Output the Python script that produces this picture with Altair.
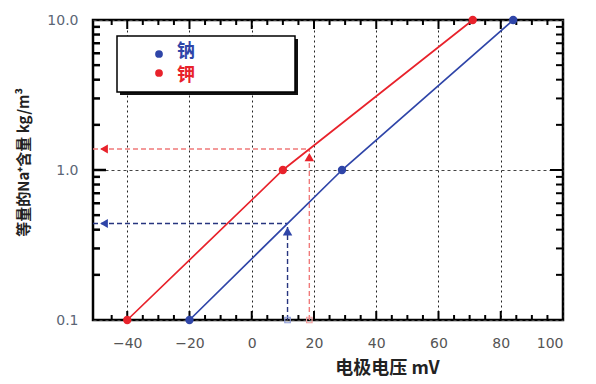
import altair as alt
import pandas as pd

# ---------------- data ----------------
series = ["钠", "钾"]
line_colors = ["#2f45a8", "#e8222b"]
dash_colors = ["#27357f", "#f07a7a"]
square_colors = ["#8c9bd6", "#f4a0a0"]

na_mv = [-20, 29, 84]
na_conc = [0.1, 1.0, 10.0]
k_mv = [-40, 10, 71]
k_conc = [0.1, 1.0, 10.0]

probe_mv = [11.5, 18.5]      # read-off voltages (Na, K)
probe_conc = [0.44, 1.38]    # resulting concentrations

x_labels = [-40, -20, 0, 20, 40, 60, 80, 100]
x_major_ticks = [-40, -20, 0, 20, 40, 60, 80]
x_minor_ticks = [-45, -35, -30, -25, -15, -10, -5, 5, 10, 15, 25, 30, 35,
                 45, 50, 55, 65, 70, 75, 85, 90, 95]
y_labels = [0.1, 1.0, 10.0]
y_major_ticks = [1.0]
y_minor_ticks = [0.2, 0.3, 0.4, 0.5, 0.6, 0.7, 0.8, 0.9,
                 2, 3, 4, 5, 6, 7, 8, 9]

x_domain = [-51, 100]
y_domain = [0.1, 10]

# ---------------- tables ----------------
df_lines = pd.DataFrame({
    "mV": na_mv + k_mv,
    "conc": na_conc + k_conc,
    "series": [series[0]] * len(na_mv) + [series[1]] * len(k_mv),
})
df_probe = pd.DataFrame({"mV": probe_mv, "conc": probe_conc, "series": series})

seg_rows = []
for s, m, c in zip(series, probe_mv, probe_conc):
    seg_rows += [
        {"seg": s + "v", "series": s, "mV": m, "conc": y_domain[0]},
        {"seg": s + "v", "series": s, "mV": m, "conc": c},
        {"seg": s + "h", "series": s, "mV": m, "conc": c},
        {"seg": s + "h", "series": s, "mV": x_domain[0], "conc": c},
    ]
df_seg = pd.DataFrame(seg_rows)
df_left = pd.DataFrame({"mV": [x_domain[0]] * 2, "conc": probe_conc, "series": series})
df_bottom = pd.DataFrame({"mV": probe_mv, "conc": [y_domain[0]] * 2, "series": series})

# ---------------- scales / axes ----------------
xs = alt.Scale(domain=x_domain, nice=False, zero=False)
ys = alt.Scale(type="log", domain=y_domain, nice=False)
cs = alt.Scale(domain=series, range=line_colors)
ds = alt.Scale(domain=series, range=dash_colors)
ss = alt.Scale(domain=series, range=square_colors)

x_axis = alt.Axis(
    values=x_labels, grid=True, gridDash=[2, 3], gridColor="#222", gridWidth=1,
    ticks=False, domain=False, labelPadding=16, labelFontSize=14,
    labelColor="#555", labelFont="DejaVu Sans",
    title="电极电压 mV", titleFontSize=18, titleFontWeight="bold",
    titleFont="Noto Sans CJK SC", titleColor="#222",
    titleX=294, titleY=48, titleAlign="center", titleBaseline="middle",
)
y_axis = alt.Axis(
    values=y_labels, format=".1f", grid=True, gridDash=[3, 3], gridColor="#444",
    gridWidth=1, ticks=False, domain=False, labelPadding=15, labelFontSize=14,
    labelColor="#5b6575", labelFont="DejaVu Sans",
    title="等量的Na⁺含量 kg/m³", titleFontSize=15, titleFontWeight="bold",
    titleFont="Noto Sans CJK SC", titleColor="#222",
    titleX=-70, titleY=142, titleAlign="center", titleBaseline="middle",
)


def X():
    return alt.X("mV:Q", scale=xs, axis=x_axis)


def Y():
    return alt.Y("conc:Q", scale=ys, axis=y_axis)


color = alt.Color("series:N", scale=cs, legend=None)

lines = alt.Chart(df_lines).mark_line(strokeWidth=1.7).encode(
    x=X(), y=Y(), color=color)
points = alt.Chart(df_lines).mark_circle(size=70, opacity=1).encode(
    x=X(), y=Y(), color=color)

guides = alt.Chart(df_seg).mark_line(strokeDash=[5, 3], strokeWidth=1.4).encode(
    x=X(), y=Y(), detail="seg:N",
    stroke=alt.Stroke("series:N", scale=ds, legend=None))
tri_up = alt.Chart(df_probe).mark_point(
    shape="triangle-up", filled=True, size=90, opacity=1, yOffset=8).encode(
    x=X(), y=Y(), color=color)
tri_left = alt.Chart(df_left).mark_point(
    shape="triangle-left", filled=True, size=80, opacity=1, xOffset=11).encode(
    x=X(), y=Y(), color=color)
squares = alt.Chart(df_bottom).mark_point(
    shape="square", filled=False, size=30, strokeWidth=1.2, opacity=1).encode(
    x=X(), y=Y(), stroke=alt.Stroke("series:N", scale=ss, legend=None))


# inward ticks: 'stroke' symbols (a line of length sqrt(size)), shifted inward by half length
def tick_layer(df, side, length, width):
    props = dict(shape="stroke", filled=False, color="black", stroke="black",
                 opacity=1, strokeWidth=width, size=length ** 2)
    if side == "bottom":
        props.update(angle=90, yOffset=-length / 2)
    elif side == "top":
        props.update(angle=90, yOffset=length / 2)
    elif side == "left":
        props.update(xOffset=length / 2)
    else:
        props.update(xOffset=-length / 2)
    return alt.Chart(df).mark_point(**props).encode(x=X(), y=Y())


def xticks(vals, side, length, width):
    at = y_domain[0] if side == "bottom" else y_domain[1]
    return tick_layer(pd.DataFrame({"mV": vals, "conc": [at] * len(vals)}), side, length, width)


def yticks(vals, side, length, width):
    at = x_domain[0] if side == "left" else x_domain[1]
    return tick_layer(pd.DataFrame({"conc": vals, "mV": [at] * len(vals)}), side, length, width)


ticks = [
    xticks(x_major_ticks, "bottom", 9, 2), xticks(x_minor_ticks, "bottom", 5, 2),
    xticks(x_major_ticks, "top", 9, 2), xticks(x_minor_ticks, "top", 5, 2),
    yticks(y_major_ticks, "left", 13, 2.5), yticks(y_minor_ticks, "left", 7, 2.5),
    yticks(y_major_ticks, "right", 13, 2), yticks(y_minor_ticks, "right", 7, 2),
]

# ---------------- legend (boxed) ----------------
one = pd.DataFrame({"k": [0]})
shadow = alt.Chart(one).mark_rect(color="#111").encode(
    x=alt.value(27), x2=alt.value(205), y=alt.value(19), y2=alt.value(75))
box = alt.Chart(one).mark_rect(fill="white", stroke="black", strokeWidth=1.5).encode(
    x=alt.value(24), x2=alt.value(202), y=alt.value(16), y2=alt.value(72))
leg_layers = []
for i, (s, c) in enumerate(zip(series, line_colors)):
    row = pd.DataFrame({"series": [s]})
    leg_layers.append(alt.Chart(row).mark_circle(size=60, opacity=1, color=c).encode(
        x=alt.value(66), y=alt.value(34 + 19 * i)))
    leg_layers.append(alt.Chart(row).mark_text(
        align="left", baseline="middle", fontSize=18, fontWeight="bold",
        font="Noto Sans CJK SC", color=c).encode(
        x=alt.value(84), y=alt.value(32 + 24 * i), text="series:N"))

chart = alt.layer(
    guides, squares, *ticks, lines, points, tri_up, tri_left,
    shadow, box, *leg_layers,
).resolve_scale(stroke="independent").properties(
    width=470, height=300,
    padding={"left": 93, "top": 20, "right": 33, "bottom": 64},
    autosize=alt.AutoSizeParams(type="none"),
    background="white",
).configure_view(stroke="black", strokeWidth=2.5)

chart.save("out.html", embed_options={"renderer": "svg", "actions": False})
